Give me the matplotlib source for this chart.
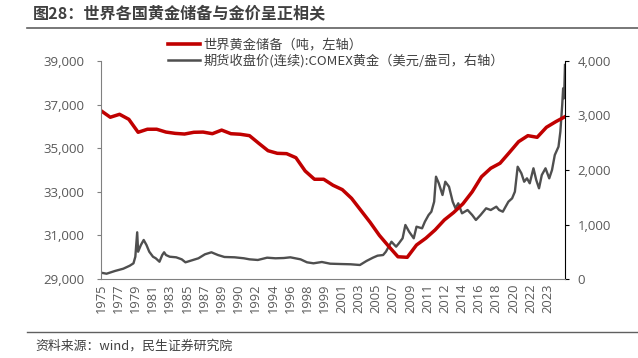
import matplotlib
matplotlib.use("Agg")
import matplotlib.pyplot as plt
from matplotlib.lines import Line2D

plt.rcParams['font.family'] = ['Noto Sans CJK SC', 'DejaVu Sans']

# ---- data ----
reserve_years = list(range(1975, 2026))
reserve_tonnes = [36720, 36420, 36555, 36325, 35730, 35870, 35870, 35740, 35680, 35650,
                  35730, 35740, 35665, 35830, 35665, 35640, 35575, 35225, 34885, 34765,
                  34750, 34565, 33955, 33575, 33575, 33300, 33100, 32700, 32150, 31600,
                  31000, 30500, 30020, 29995, 30560, 30870, 31250, 31710, 32050, 32450,
                  33000, 33690, 34080, 34310, 34800, 35300, 35575, 35500, 35960, 36215,
                  36445]

gold_years = [1975.0, 1975.6, 1976.5, 1977.4, 1978.1, 1978.5, 1978.7, 1978.9, 1979.0, 1979.3,
              1979.6, 1979.9, 1980.2, 1980.6, 1980.9, 1981.3, 1981.6, 1981.8, 1982.0, 1982.4,
              1983.1, 1983.7, 1984.1, 1984.8, 1985.5, 1986.2, 1986.9, 1987.6, 1988.3, 1989.4,
              1990.4, 1991.0, 1991.9, 1992.9, 1993.8, 1994.7, 1995.4, 1996.5, 1997.2, 1997.9,
              1998.8, 1999.7, 2000.8, 2001.9, 2002.9, 2003.6, 2004.3, 2004.8, 2005.4, 2005.7,
              2006.3, 2006.8, 2007.1, 2007.5, 2007.8, 2008.2, 2008.7, 2009.0, 2009.6, 2009.9,
              2010.3, 2010.6, 2010.9, 2011.1, 2011.4, 2011.8, 2012.1, 2012.5, 2012.9, 2013.2,
              2013.5, 2013.9, 2014.5, 2015.0, 2015.4, 2015.9, 2016.5, 2017.0, 2017.6, 2017.9,
              2018.3, 2018.6, 2018.9, 2019.3, 2019.6, 2019.9, 2020.3, 2020.6, 2020.9, 2021.2,
              2021.6, 2021.9, 2022.2, 2022.5, 2022.9, 2023.3, 2023.6, 2023.9, 2024.3, 2024.5,
              2024.7, 2024.8, 2024.9, 2025.0]
gold_price = [116, 97, 147, 189, 244, 288, 409, 857, 501, 624,
              716, 624, 501, 409, 380, 317, 440, 490, 440, 409,
              398, 361, 306, 343, 380, 453, 490, 440, 404, 398,
              380, 361, 349, 391, 380, 385, 398, 361, 306, 288,
              312, 281, 275, 270, 257, 330, 391, 428, 440, 501,
              684, 593, 655, 747, 991, 868, 747, 960, 930, 1051,
              1174, 1235, 1418, 1877, 1756, 1541, 1785, 1694, 1418, 1297,
              1389, 1205, 1266, 1174, 1083, 1174, 1297, 1266, 1327, 1266,
              1235, 1327, 1418, 1480, 1602, 2060, 1939, 1785, 1847, 1756,
              2031, 1817, 1664, 1908, 2031, 1847, 2000, 2275, 2428, 2703,
              3193, 3499, 3316, 3927]

tick_labels = ['1975', '1977', '1979', '1981', '1983', '1985', '1987', '1989', '1990',
               '1992', '1994', '1996', '1998', '1999', '2001', '2003', '2005', '2007',
               '2009', '2011', '2012', '2014', '2016', '2018', '2020', '2022', '2023']

title = '图28：世界各国黄金储备与金价呈正相关'
source = '资料来源：wind，民生证券研究院'
label_reserve = '世界黄金储备（吨，左轴）'
label_gold = '期货收盘价(连续):COMEX黄金（美元/盎司，右轴）'

# ---- figure ----
W, H = 638, 358
fig = plt.figure(figsize=(W / 100, H / 100), dpi=100)
ax = fig.add_axes([101 / W, 1 - 279 / H, (565 - 101) / W, (279 - 61) / H])
ax2 = ax.twinx()

RED = '#C00000'
GRAY = '#4F4F4F'
TXT = '#595959'
NUMFONT = ['Open Sans', 'DejaVu Sans']

x0, x1 = 1975.0, 2025.0
ax.set_xlim(x0, x1)
ax.set_ylim(29000, 39000)
ax2.set_ylim(0, 4000)

ax2.plot(gold_years, gold_price, color=GRAY, lw=1.7, solid_joinstyle='round')
ax.plot(reserve_years, reserve_tonnes, color=RED, lw=2.5, solid_joinstyle='round')
ax.set_zorder(ax2.get_zorder() + 1)
ax.patch.set_visible(False)

ax.set_yticks(range(29000, 39001, 2000))
ax.set_yticklabels([f'{v:,}' for v in range(29000, 39001, 2000)], family=NUMFONT)
ax2.set_yticks(range(0, 4001, 1000))
ax2.set_yticklabels([f'{v:,}' for v in range(0, 4001, 1000)], family=NUMFONT)

step = (x1 - x0) / 27
ax.set_xticks([x0 + i * step for i in range(len(tick_labels))])
ax.set_xticklabels(tick_labels, rotation=90, family=NUMFONT)

for a in (ax, ax2):
    a.spines['top'].set_visible(False)
ax.spines['left'].set_color('#808080')
ax.spines['bottom'].set_color('#808080')
ax.spines['right'].set_visible(False)
ax2.spines['left'].set_visible(False)
ax2.spines['bottom'].set_visible(False)
ax2.spines['right'].set_color('black')

ax.tick_params(axis='y', direction='out', length=3, width=0.8, color='#808080',
               labelsize=9.5, labelcolor=TXT, pad=9)
ax.tick_params(axis='x', length=0, labelsize=9.3, labelcolor=TXT, pad=3)
ax2.tick_params(axis='y', direction='out', length=3, width=0.8, color='black',
                labelsize=9.5, labelcolor=TXT, pad=6)

handles = [Line2D([], [], color=RED, lw=2.6), Line2D([], [], color=GRAY, lw=1.8)]
leg = fig.legend(handles, [label_reserve, label_gold], loc='upper left',
                 bbox_to_anchor=(168 / W, 1 - 39 / H), frameon=False,
                 fontsize=9.5, handlelength=2.4, handletextpad=0.3,
                 labelspacing=0.12, borderpad=0, borderaxespad=0)
for t in leg.get_texts():
    t.set_color('#404040')

fig.text(33 / W, 1 - 13 / H, title, fontsize=11.6, fontweight='bold', color='#404040',
         va='center', ha='left')
fig.add_artist(Line2D([27 / W, 1], [1 - 28 / H, 1 - 28 / H], color='#606060', lw=1.2))
fig.add_artist(Line2D([27 / W, 1], [1 - 332 / H, 1 - 332 / H], color='#606060', lw=1.0))
fig.text(35 / W, 1 - 346 / H, source, fontsize=9.3, color='#404040', va='center', ha='left')

fig.savefig('out.png', dpi=100)
